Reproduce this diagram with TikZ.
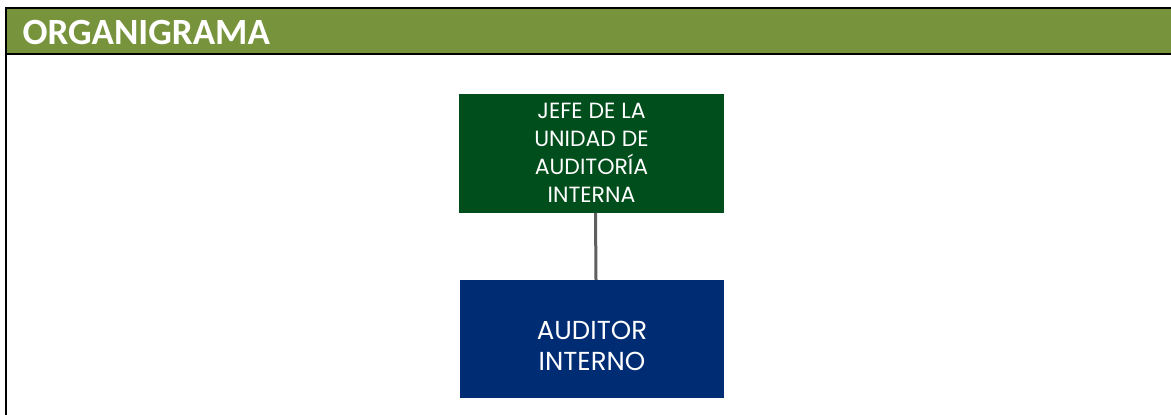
\documentclass[tikz,border=0pt]{standalone}
\usepackage{fontspec}
\usepackage{xcolor}
\usepackage{tikz}
\newfontfamily\titlefont{Carlito}
\newfontfamily\boxfont{Poppins}
\definecolor{headgreen}{HTML}{77933C}
\definecolor{jefegreen}{HTML}{004E1B}
\definecolor{audblue}{HTML}{002C73}
\definecolor{linkgray}{HTML}{5F5F5F}

\begin{document}
\begin{tikzpicture}[x=1pt,y=-1pt]
          \tikzstyle{unit}=[rectangle, text=white, align=center, inner sep=0pt, font=\boxfont\fontsize{22}{28}\selectfont]
          \useasboundingbox (0,0) rectangle (1171,415);
          \fill[headgreen] (6,8) rectangle (1171,54);
          \draw[line width=2.5pt] (1171,8) -- (6,8) -- (6,415);
          \draw[line width=2.5pt] (6,54) -- (1171,54);
          \node (Title)[anchor=west, text=white, font=\titlefont\bfseries\fontsize{37}{42}\selectfont] at (19,32) {ORGANIGRAMA};
          \node (Jefe)[unit, fill=jefegreen, minimum width=265pt, minimum height=119pt] at (591.5,153)
            {JEFE DE LA\\UNIDAD DE\\AUDITORÍA\\INTERNA};
          \node (Auditor)[unit, fill=audblue, minimum width=264pt, minimum height=118pt,
            label={[unit, yshift=-7pt, font=\boxfont\fontsize{26}{31}\selectfont]center:AUDITOR\\INTERNO}] at (592,339) {};
          \draw[linkgray, line width=3pt] ([xshift=4pt]Jefe.south) -- ([xshift=4pt]Auditor.north);
        \end{tikzpicture}
\end{document}
